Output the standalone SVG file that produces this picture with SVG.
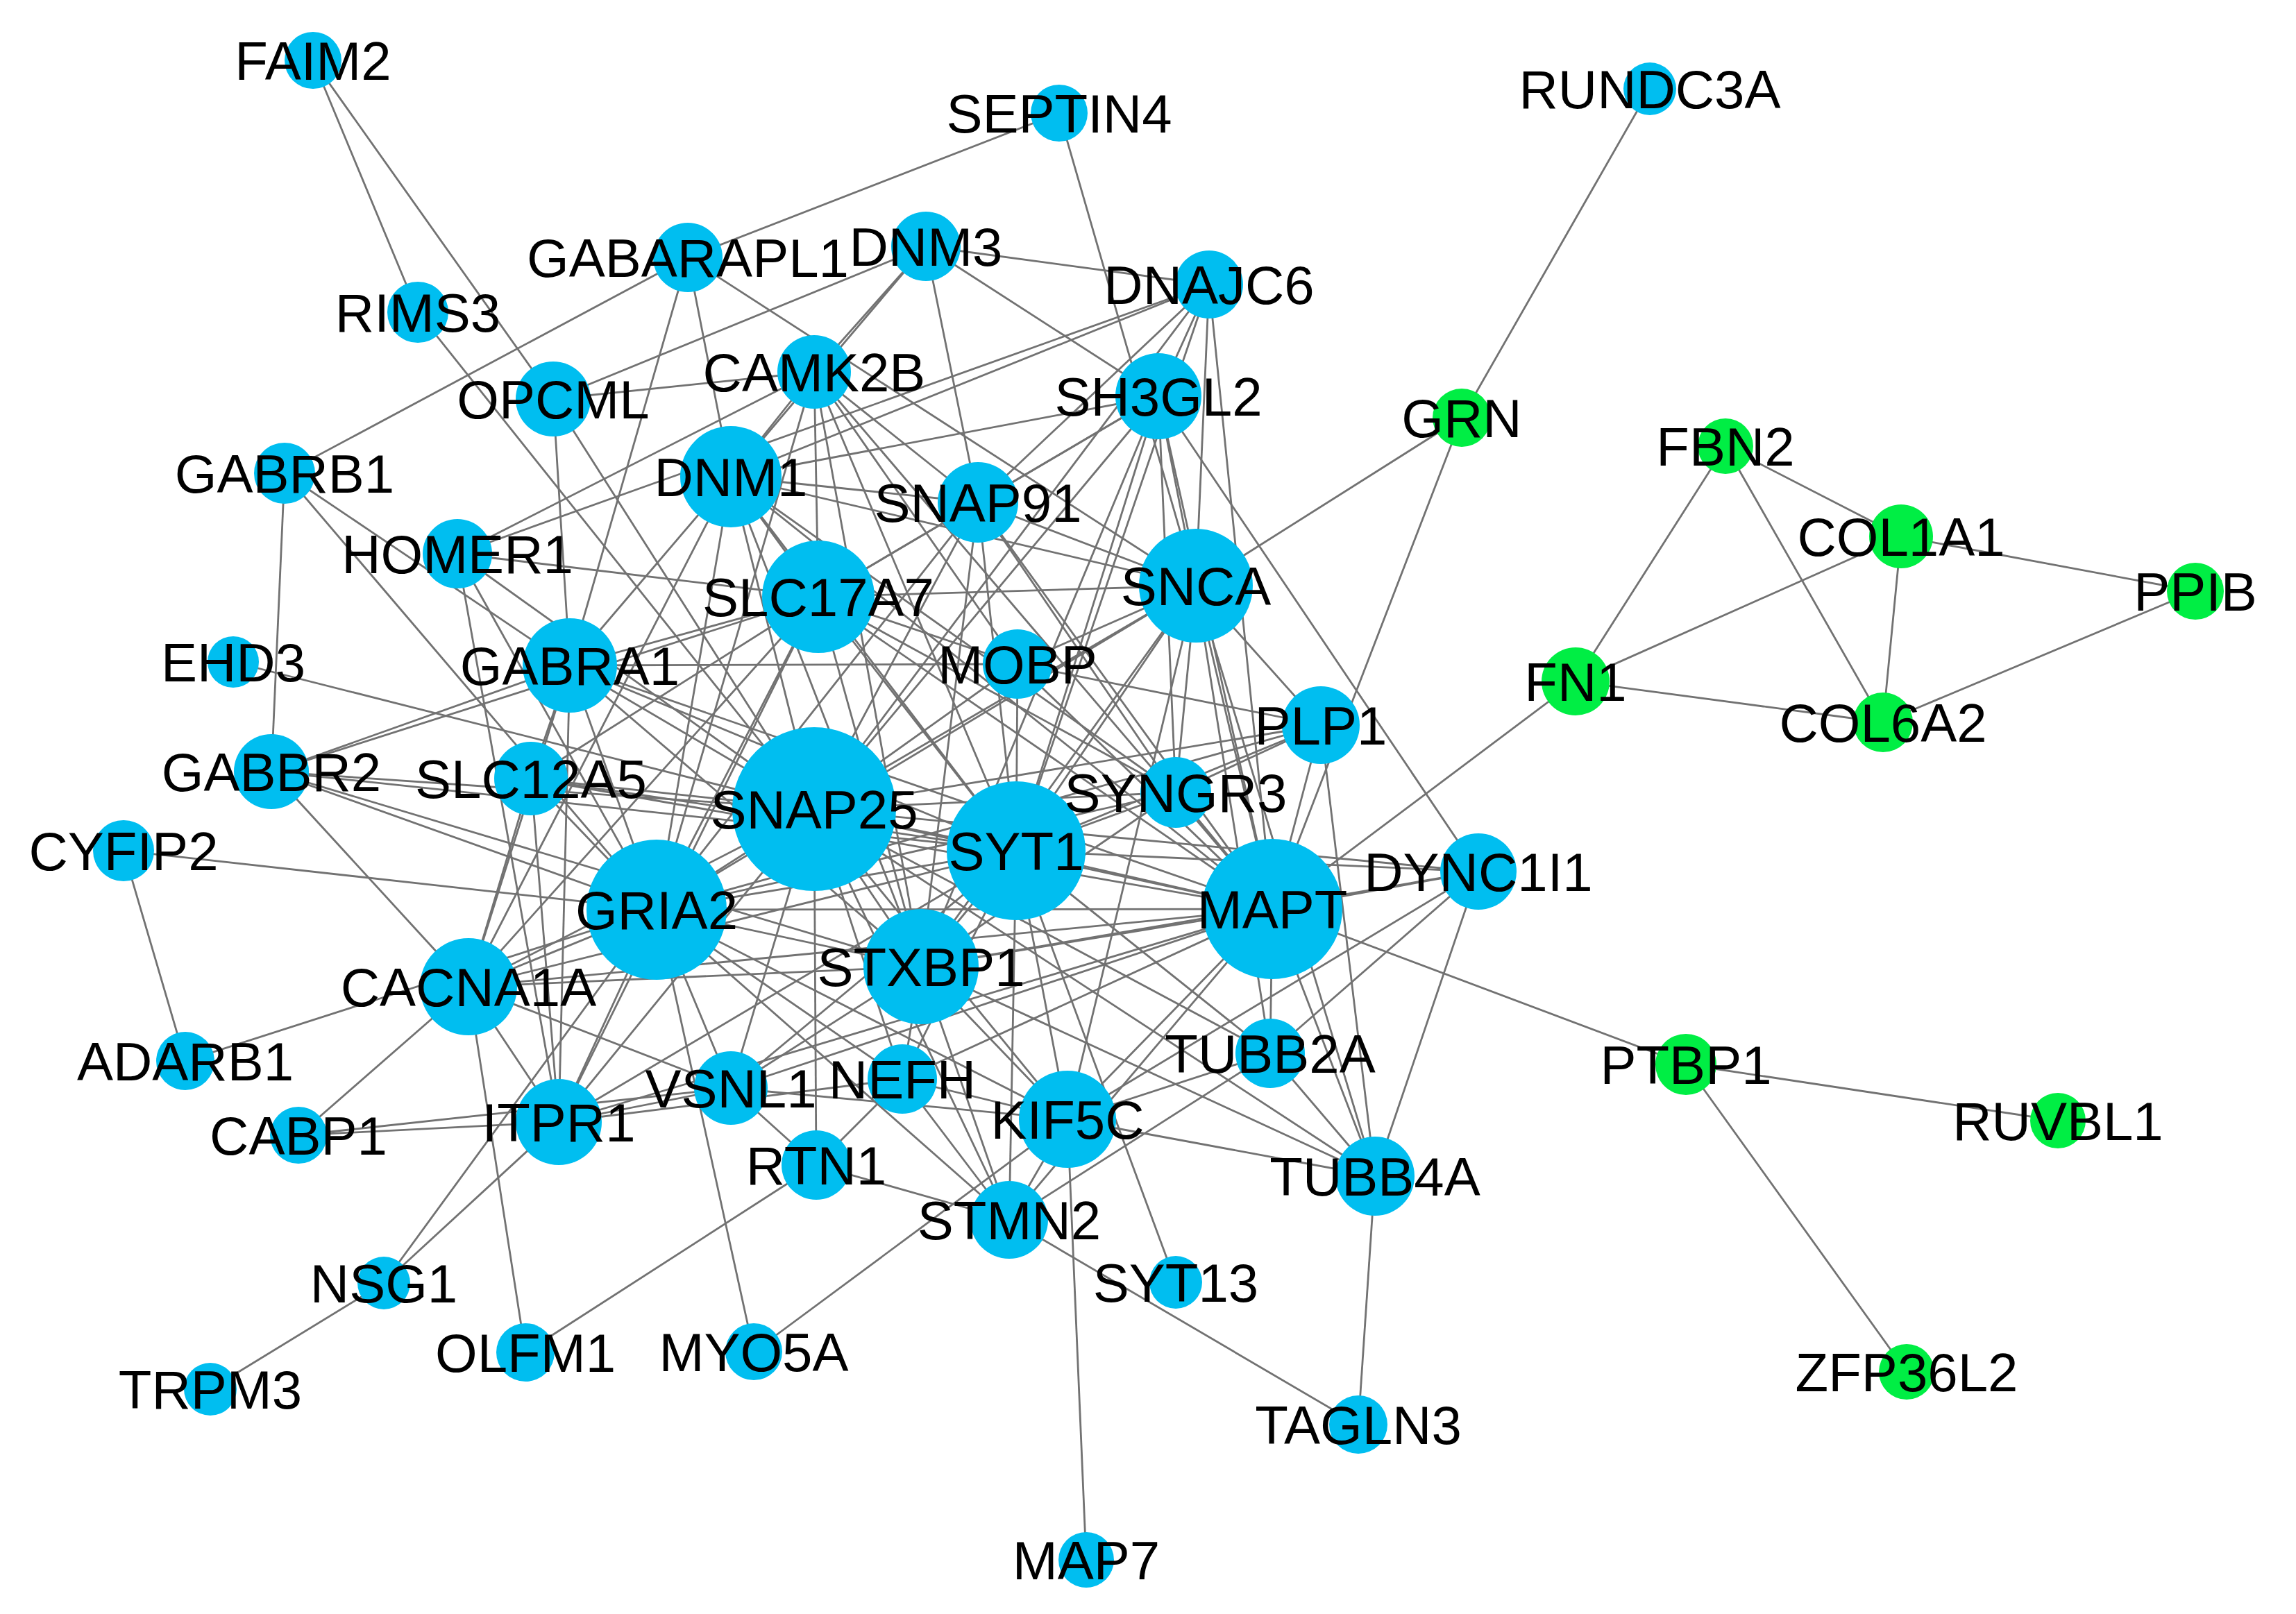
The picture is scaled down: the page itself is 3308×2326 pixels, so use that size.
<svg xmlns="http://www.w3.org/2000/svg" width="3308" height="2326" viewBox="0 0 3308 2326">
<style>
.e line{stroke:#727272;stroke-width:2.8;fill:none}
.b{fill:#00BEF0}
.g{fill:#00EE44}
text{font-family:"Liberation Sans",Arial,Helvetica,sans-serif;font-size:78px;fill:#000;text-anchor:middle}
</style>
<rect width="3308" height="2326" fill="#fff"/>
<g id="edges" class="e">
<line x1="451" y1="87" x2="602" y2="450"/>
<line x1="451" y1="87" x2="797" y2="575"/>
<line x1="602" y1="450" x2="1173" y2="1166"/>
<line x1="1526" y1="163" x2="991" y2="371"/>
<line x1="1526" y1="163" x2="1723" y2="844"/>
<line x1="2377" y1="128" x2="2106" y2="602"/>
<line x1="2106" y1="602" x2="1723" y2="844"/>
<line x1="2106" y1="602" x2="1833" y2="1310"/>
<line x1="2486" y1="643" x2="2270" y2="982"/>
<line x1="2486" y1="643" x2="2739" y2="773"/>
<line x1="2486" y1="643" x2="2713" y2="1041"/>
<line x1="2739" y1="773" x2="2270" y2="982"/>
<line x1="2739" y1="773" x2="2713" y2="1041"/>
<line x1="2739" y1="773" x2="3163" y2="852"/>
<line x1="2713" y1="1041" x2="3163" y2="852"/>
<line x1="2270" y1="982" x2="2713" y2="1041"/>
<line x1="2270" y1="982" x2="1833" y2="1310"/>
<line x1="2429" y1="1534" x2="2965" y2="1615"/>
<line x1="2429" y1="1534" x2="2747" y2="1977"/>
<line x1="1833" y1="1310" x2="2429" y2="1534"/>
<line x1="1981" y1="1695" x2="1957" y2="2053"/>
<line x1="1454" y1="1758" x2="1957" y2="2053"/>
<line x1="1464" y1="1226" x2="1694" y2="1848"/>
<line x1="1538" y1="1613" x2="1565" y2="2248"/>
<line x1="1086" y1="1948" x2="1538" y2="1613"/>
<line x1="1086" y1="1948" x2="946" y2="1311"/>
<line x1="757" y1="1949" x2="1176" y2="1679"/>
<line x1="757" y1="1949" x2="675" y2="1422"/>
<line x1="553" y1="1849" x2="303" y2="2002"/>
<line x1="553" y1="1849" x2="805" y2="1617"/>
<line x1="553" y1="1849" x2="946" y2="1311"/>
<line x1="430" y1="1636" x2="675" y2="1422"/>
<line x1="430" y1="1636" x2="805" y2="1617"/>
<line x1="430" y1="1636" x2="1053" y2="1568"/>
<line x1="267" y1="1529" x2="178" y2="1226"/>
<line x1="267" y1="1529" x2="946" y2="1311"/>
<line x1="178" y1="1226" x2="946" y2="1311"/>
<line x1="336" y1="954" x2="1173" y2="1166"/>
<line x1="410" y1="682" x2="991" y2="371"/>
<line x1="410" y1="682" x2="391" y2="1112"/>
<line x1="410" y1="682" x2="821" y2="959"/>
<line x1="410" y1="682" x2="946" y2="1311"/>
<line x1="991" y1="371" x2="821" y2="959"/>
<line x1="991" y1="371" x2="1053" y2="687"/>
<line x1="991" y1="371" x2="1723" y2="844"/>
<line x1="797" y1="575" x2="1173" y2="536"/>
<line x1="797" y1="575" x2="1334" y2="355"/>
<line x1="797" y1="575" x2="821" y2="959"/>
<line x1="797" y1="575" x2="1173" y2="1166"/>
<line x1="1334" y1="355" x2="1742" y2="410"/>
<line x1="1334" y1="355" x2="1669" y2="571"/>
<line x1="1334" y1="355" x2="1173" y2="536"/>
<line x1="1334" y1="355" x2="1053" y2="687"/>
<line x1="1334" y1="355" x2="1409" y2="724"/>
<line x1="659" y1="798" x2="805" y2="1617"/>
<line x1="659" y1="798" x2="1179" y2="860"/>
<line x1="659" y1="798" x2="946" y2="1311"/>
<line x1="659" y1="798" x2="1173" y2="1166"/>
<line x1="659" y1="798" x2="1173" y2="536"/>
<line x1="659" y1="798" x2="1742" y2="410"/>
<line x1="1742" y1="410" x2="1053" y2="687"/>
<line x1="1742" y1="410" x2="1409" y2="724"/>
<line x1="1742" y1="410" x2="1669" y2="571"/>
<line x1="1742" y1="410" x2="1723" y2="844"/>
<line x1="1742" y1="410" x2="1833" y2="1310"/>
<line x1="1742" y1="410" x2="1464" y2="1226"/>
<line x1="1742" y1="410" x2="1173" y2="1166"/>
<line x1="1669" y1="571" x2="1053" y2="687"/>
<line x1="1669" y1="571" x2="1409" y2="724"/>
<line x1="1669" y1="571" x2="2130" y2="1256"/>
<line x1="1669" y1="571" x2="1833" y2="1310"/>
<line x1="1669" y1="571" x2="1464" y2="1226"/>
<line x1="1669" y1="571" x2="1327" y2="1393"/>
<line x1="1669" y1="571" x2="1173" y2="1166"/>
<line x1="1669" y1="571" x2="1723" y2="844"/>
<line x1="1669" y1="571" x2="1694" y2="1142"/>
<line x1="1669" y1="571" x2="1179" y2="860"/>
<line x1="1173" y1="536" x2="1053" y2="687"/>
<line x1="1173" y1="536" x2="1179" y2="860"/>
<line x1="1173" y1="536" x2="1464" y2="1226"/>
<line x1="1173" y1="536" x2="1327" y2="1393"/>
<line x1="1173" y1="536" x2="1466" y2="957"/>
<line x1="1173" y1="536" x2="1409" y2="724"/>
<line x1="1173" y1="536" x2="946" y2="1311"/>
<line x1="1173" y1="536" x2="1833" y2="1310"/>
<line x1="1053" y1="687" x2="1409" y2="724"/>
<line x1="1053" y1="687" x2="1179" y2="860"/>
<line x1="1053" y1="687" x2="1173" y2="1166"/>
<line x1="1053" y1="687" x2="1464" y2="1226"/>
<line x1="1053" y1="687" x2="1327" y2="1393"/>
<line x1="1053" y1="687" x2="946" y2="1311"/>
<line x1="1053" y1="687" x2="821" y2="959"/>
<line x1="1053" y1="687" x2="1833" y2="1310"/>
<line x1="1053" y1="687" x2="1723" y2="844"/>
<line x1="1053" y1="687" x2="1694" y2="1142"/>
<line x1="1053" y1="687" x2="675" y2="1422"/>
<line x1="1409" y1="724" x2="1173" y2="1166"/>
<line x1="1409" y1="724" x2="1464" y2="1226"/>
<line x1="1409" y1="724" x2="1179" y2="860"/>
<line x1="1409" y1="724" x2="1723" y2="844"/>
<line x1="1409" y1="724" x2="1327" y2="1393"/>
<line x1="1409" y1="724" x2="1694" y2="1142"/>
<line x1="1409" y1="724" x2="1833" y2="1310"/>
<line x1="1409" y1="724" x2="946" y2="1311"/>
<line x1="1179" y1="860" x2="1464" y2="1226"/>
<line x1="1179" y1="860" x2="1327" y2="1393"/>
<line x1="1179" y1="860" x2="946" y2="1311"/>
<line x1="1179" y1="860" x2="1723" y2="844"/>
<line x1="1179" y1="860" x2="821" y2="959"/>
<line x1="1179" y1="860" x2="765" y2="1122"/>
<line x1="1179" y1="860" x2="675" y2="1422"/>
<line x1="1179" y1="860" x2="1833" y2="1310"/>
<line x1="1179" y1="860" x2="1694" y2="1142"/>
<line x1="1179" y1="860" x2="391" y2="1112"/>
<line x1="1179" y1="860" x2="1466" y2="957"/>
<line x1="1179" y1="860" x2="805" y2="1617"/>
<line x1="1723" y1="844" x2="1173" y2="1166"/>
<line x1="1723" y1="844" x2="1464" y2="1226"/>
<line x1="1723" y1="844" x2="1833" y2="1310"/>
<line x1="1723" y1="844" x2="1327" y2="1393"/>
<line x1="1723" y1="844" x2="1903" y2="1045"/>
<line x1="1723" y1="844" x2="1694" y2="1142"/>
<line x1="1723" y1="844" x2="1466" y2="957"/>
<line x1="1723" y1="844" x2="946" y2="1311"/>
<line x1="1723" y1="844" x2="1981" y2="1695"/>
<line x1="1723" y1="844" x2="1538" y2="1613"/>
<line x1="1723" y1="844" x2="1830" y2="1518"/>
<line x1="1466" y1="957" x2="1903" y2="1045"/>
<line x1="1466" y1="957" x2="1833" y2="1310"/>
<line x1="1466" y1="957" x2="1173" y2="1166"/>
<line x1="1466" y1="957" x2="821" y2="959"/>
<line x1="1466" y1="957" x2="1464" y2="1226"/>
<line x1="1903" y1="1045" x2="1833" y2="1310"/>
<line x1="1903" y1="1045" x2="1981" y2="1695"/>
<line x1="1903" y1="1045" x2="1173" y2="1166"/>
<line x1="1903" y1="1045" x2="1694" y2="1142"/>
<line x1="1903" y1="1045" x2="946" y2="1311"/>
<line x1="1903" y1="1045" x2="1464" y2="1226"/>
<line x1="1694" y1="1142" x2="1173" y2="1166"/>
<line x1="1694" y1="1142" x2="1464" y2="1226"/>
<line x1="1694" y1="1142" x2="1833" y2="1310"/>
<line x1="1694" y1="1142" x2="1327" y2="1393"/>
<line x1="1694" y1="1142" x2="946" y2="1311"/>
<line x1="2130" y1="1256" x2="1833" y2="1310"/>
<line x1="2130" y1="1256" x2="1981" y2="1695"/>
<line x1="2130" y1="1256" x2="1830" y2="1518"/>
<line x1="2130" y1="1256" x2="1538" y2="1613"/>
<line x1="2130" y1="1256" x2="1464" y2="1226"/>
<line x1="2130" y1="1256" x2="1173" y2="1166"/>
<line x1="2130" y1="1256" x2="1327" y2="1393"/>
<line x1="1833" y1="1310" x2="1173" y2="1166"/>
<line x1="1833" y1="1310" x2="1464" y2="1226"/>
<line x1="1833" y1="1310" x2="946" y2="1311"/>
<line x1="1833" y1="1310" x2="1327" y2="1393"/>
<line x1="1833" y1="1310" x2="1538" y2="1613"/>
<line x1="1833" y1="1310" x2="1830" y2="1518"/>
<line x1="1833" y1="1310" x2="1981" y2="1695"/>
<line x1="1833" y1="1310" x2="1454" y2="1758"/>
<line x1="1833" y1="1310" x2="1300" y2="1555"/>
<line x1="1833" y1="1310" x2="675" y2="1422"/>
<line x1="1833" y1="1310" x2="1053" y2="1568"/>
<line x1="1833" y1="1310" x2="821" y2="959"/>
<line x1="1833" y1="1310" x2="805" y2="1617"/>
<line x1="1830" y1="1518" x2="1981" y2="1695"/>
<line x1="1830" y1="1518" x2="1538" y2="1613"/>
<line x1="1830" y1="1518" x2="1454" y2="1758"/>
<line x1="1830" y1="1518" x2="1464" y2="1226"/>
<line x1="1981" y1="1695" x2="1538" y2="1613"/>
<line x1="1981" y1="1695" x2="1327" y2="1393"/>
<line x1="1538" y1="1613" x2="1454" y2="1758"/>
<line x1="1538" y1="1613" x2="1173" y2="1166"/>
<line x1="1538" y1="1613" x2="1464" y2="1226"/>
<line x1="1538" y1="1613" x2="1327" y2="1393"/>
<line x1="1538" y1="1613" x2="1300" y2="1555"/>
<line x1="1538" y1="1613" x2="946" y2="1311"/>
<line x1="1538" y1="1613" x2="1053" y2="1568"/>
<line x1="1454" y1="1758" x2="1176" y2="1679"/>
<line x1="1454" y1="1758" x2="1173" y2="1166"/>
<line x1="1454" y1="1758" x2="1300" y2="1555"/>
<line x1="1454" y1="1758" x2="1327" y2="1393"/>
<line x1="1454" y1="1758" x2="1464" y2="1226"/>
<line x1="1454" y1="1758" x2="946" y2="1311"/>
<line x1="1300" y1="1555" x2="1176" y2="1679"/>
<line x1="1300" y1="1555" x2="1173" y2="1166"/>
<line x1="1300" y1="1555" x2="1464" y2="1226"/>
<line x1="1300" y1="1555" x2="946" y2="1311"/>
<line x1="1300" y1="1555" x2="805" y2="1617"/>
<line x1="1300" y1="1555" x2="1327" y2="1393"/>
<line x1="1176" y1="1679" x2="1173" y2="1166"/>
<line x1="1176" y1="1679" x2="1053" y2="1568"/>
<line x1="1053" y1="1568" x2="805" y2="1617"/>
<line x1="1053" y1="1568" x2="1173" y2="1166"/>
<line x1="1053" y1="1568" x2="946" y2="1311"/>
<line x1="1053" y1="1568" x2="1464" y2="1226"/>
<line x1="1053" y1="1568" x2="1327" y2="1393"/>
<line x1="1053" y1="1568" x2="675" y2="1422"/>
<line x1="805" y1="1617" x2="675" y2="1422"/>
<line x1="805" y1="1617" x2="946" y2="1311"/>
<line x1="805" y1="1617" x2="1173" y2="1166"/>
<line x1="805" y1="1617" x2="821" y2="959"/>
<line x1="805" y1="1617" x2="765" y2="1122"/>
<line x1="805" y1="1617" x2="1464" y2="1226"/>
<line x1="675" y1="1422" x2="1173" y2="1166"/>
<line x1="675" y1="1422" x2="1464" y2="1226"/>
<line x1="675" y1="1422" x2="1327" y2="1393"/>
<line x1="675" y1="1422" x2="946" y2="1311"/>
<line x1="675" y1="1422" x2="821" y2="959"/>
<line x1="675" y1="1422" x2="765" y2="1122"/>
<line x1="675" y1="1422" x2="391" y2="1112"/>
<line x1="391" y1="1112" x2="821" y2="959"/>
<line x1="391" y1="1112" x2="946" y2="1311"/>
<line x1="391" y1="1112" x2="1327" y2="1393"/>
<line x1="391" y1="1112" x2="1173" y2="1166"/>
<line x1="391" y1="1112" x2="1464" y2="1226"/>
<line x1="765" y1="1122" x2="821" y2="959"/>
<line x1="765" y1="1122" x2="946" y2="1311"/>
<line x1="765" y1="1122" x2="1173" y2="1166"/>
<line x1="765" y1="1122" x2="1464" y2="1226"/>
<line x1="765" y1="1122" x2="1833" y2="1310"/>
<line x1="821" y1="959" x2="1173" y2="1166"/>
<line x1="821" y1="959" x2="1464" y2="1226"/>
<line x1="821" y1="959" x2="946" y2="1311"/>
<line x1="821" y1="959" x2="1327" y2="1393"/>
<line x1="1173" y1="1166" x2="1464" y2="1226"/>
<line x1="1173" y1="1166" x2="1327" y2="1393"/>
<line x1="1173" y1="1166" x2="946" y2="1311"/>
<line x1="1464" y1="1226" x2="1327" y2="1393"/>
<line x1="1464" y1="1226" x2="946" y2="1311"/>
<line x1="946" y1="1311" x2="1327" y2="1393"/>
<line x1="1173" y1="1166" x2="1981" y2="1695"/>
<line x1="1173" y1="1166" x2="1830" y2="1518"/>
</g>
<g id="nodes">
<g id="SNAP25"><circle class="b" cx="1173" cy="1166" r="118"/><text x="1173" y="1194">SNAP25</text></g>
<g id="MAPT"><circle class="b" cx="1833" cy="1310" r="101"/><text x="1833" y="1338">MAPT</text></g>
<g id="GRIA2"><circle class="b" cx="946" cy="1311" r="101"/><text x="946" y="1339">GRIA2</text></g>
<g id="SYT1"><circle class="b" cx="1464" cy="1226" r="100"/><text x="1464" y="1254">SYT1</text></g>
<g id="STXBP1"><circle class="b" cx="1327" cy="1393" r="83"/><text x="1327" y="1421">STXBP1</text></g>
<g id="SNCA"><circle class="b" cx="1723" cy="844" r="82"/><text x="1723" y="872">SNCA</text></g>
<g id="SLC17A7"><circle class="b" cx="1179" cy="860" r="81"/><text x="1179" y="888">SLC17A7</text></g>
<g id="DNM1"><circle class="b" cx="1053" cy="687" r="73"/><text x="1053" y="715">DNM1</text></g>
<g id="CACNA1A"><circle class="b" cx="675" cy="1422" r="70"/><text x="675" y="1450">CACNA1A</text></g>
<g id="KIF5C"><circle class="b" cx="1538" cy="1613" r="70"/><text x="1538" y="1641">KIF5C</text></g>
<g id="GABRA1"><circle class="b" cx="821" cy="959" r="68"/><text x="821" y="987">GABRA1</text></g>
<g id="SH3GL2"><circle class="b" cx="1669" cy="571" r="62"/><text x="1669" y="599">SH3GL2</text></g>
<g id="ITPR1"><circle class="b" cx="805" cy="1617" r="62"/><text x="805" y="1645">ITPR1</text></g>
<g id="SNAP91"><circle class="b" cx="1409" cy="724" r="58"/><text x="1409" y="752">SNAP91</text></g>
<g id="TUBB4A"><circle class="b" cx="1981" cy="1695" r="57"/><text x="1981" y="1723">TUBB4A</text></g>
<g id="PLP1"><circle class="b" cx="1903" cy="1045" r="56"/><text x="1903" y="1073">PLP1</text></g>
<g id="STMN2"><circle class="b" cx="1454" cy="1758" r="56"/><text x="1454" y="1786">STMN2</text></g>
<g id="DYNC1I1"><circle class="b" cx="2130" cy="1256" r="55"/><text x="2130" y="1284">DYNC1I1</text></g>
<g id="OPCML"><circle class="b" cx="797" cy="575" r="54"/><text x="797" y="603">OPCML</text></g>
<g id="GABBR2"><circle class="b" cx="391" cy="1112" r="54"/><text x="391" y="1140">GABBR2</text></g>
<g id="CAMK2B"><circle class="b" cx="1173" cy="536" r="53"/><text x="1173" y="564">CAMK2B</text></g>
<g id="SLC12A5"><circle class="b" cx="765" cy="1122" r="53"/><text x="765" y="1150">SLC12A5</text></g>
<g id="VSNL1"><circle class="b" cx="1053" cy="1568" r="53"/><text x="1053" y="1596">VSNL1</text></g>
<g id="SYNGR3"><circle class="b" cx="1694" cy="1142" r="51"/><text x="1694" y="1170">SYNGR3</text></g>
<g id="GABARAPL1"><circle class="b" cx="991" cy="371" r="50"/><text x="991" y="399">GABARAPL1</text></g>
<g id="DNM3"><circle class="b" cx="1334" cy="355" r="50"/><text x="1334" y="383">DNM3</text></g>
<g id="HOMER1"><circle class="b" cx="659" cy="798" r="50"/><text x="659" y="826">HOMER1</text></g>
<g id="MOBP"><circle class="b" cx="1466" cy="957" r="50"/><text x="1466" y="985">MOBP</text></g>
<g id="TUBB2A"><circle class="b" cx="1830" cy="1518" r="50"/><text x="1830" y="1546">TUBB2A</text></g>
<g id="NEFH"><circle class="b" cx="1300" cy="1555" r="50"/><text x="1300" y="1583">NEFH</text></g>
<g id="RTN1"><circle class="b" cx="1176" cy="1679" r="50"/><text x="1176" y="1707">RTN1</text></g>
<g id="DNAJC6"><circle class="b" cx="1742" cy="410" r="49"/><text x="1742" y="438">DNAJC6</text></g>
<g id="FN1"><circle class="g" cx="2270" cy="982" r="49"/><text x="2270" y="1010">FN1</text></g>
<g id="COL1A1"><circle class="g" cx="2739" cy="773" r="46"/><text x="2739" y="801">COL1A1</text></g>
<g id="RIMS3"><circle class="b" cx="602" cy="450" r="44"/><text x="602" y="478">RIMS3</text></g>
<g id="GABRB1"><circle class="b" cx="410" cy="682" r="44"/><text x="410" y="710">GABRB1</text></g>
<g id="CYFIP2"><circle class="b" cx="178" cy="1226" r="44"/><text x="178" y="1254">CYFIP2</text></g>
<g id="PTBP1"><circle class="g" cx="2429" cy="1534" r="44"/><text x="2429" y="1562">PTBP1</text></g>
<g id="COL6A2"><circle class="g" cx="2713" cy="1041" r="43"/><text x="2713" y="1069">COL6A2</text></g>
<g id="GRN"><circle class="g" cx="2106" cy="602" r="42"/><text x="2106" y="630">GRN</text></g>
<g id="ADARB1"><circle class="b" cx="267" cy="1529" r="42"/><text x="267" y="1557">ADARB1</text></g>
<g id="OLFM1"><circle class="b" cx="757" cy="1949" r="42"/><text x="757" y="1977">OLFM1</text></g>
<g id="TAGLN3"><circle class="b" cx="1957" cy="2053" r="42"/><text x="1957" y="2081">TAGLN3</text></g>
<g id="FAIM2"><circle class="b" cx="451" cy="87" r="41"/><text x="451" y="115">FAIM2</text></g>
<g id="SEPTIN4"><circle class="b" cx="1526" cy="163" r="41"/><text x="1526" y="191">SEPTIN4</text></g>
<g id="CABP1"><circle class="b" cx="430" cy="1636" r="41"/><text x="430" y="1664">CABP1</text></g>
<g id="MYO5A"><circle class="b" cx="1086" cy="1948" r="41"/><text x="1086" y="1976">MYO5A</text></g>
<g id="PPIB"><circle class="g" cx="3163" cy="852" r="41"/><text x="3163" y="880">PPIB</text></g>
<g id="FBN2"><circle class="g" cx="2486" cy="643" r="40"/><text x="2486" y="671">FBN2</text></g>
<g id="RUVBL1"><circle class="g" cx="2965" cy="1615" r="40"/><text x="2965" y="1643">RUVBL1</text></g>
<g id="ZFP36L2"><circle class="g" cx="2747" cy="1977" r="40"/><text x="2747" y="2005">ZFP36L2</text></g>
<g id="MAP7"><circle class="b" cx="1565" cy="2248" r="40"/><text x="1565" y="2276">MAP7</text></g>
<g id="RUNDC3A"><circle class="b" cx="2377" cy="128" r="38"/><text x="2377" y="156">RUNDC3A</text></g>
<g id="EHD3"><circle class="b" cx="336" cy="954" r="37"/><text x="336" y="982">EHD3</text></g>
<g id="SYT13"><circle class="b" cx="1694" cy="1848" r="38"/><text x="1694" y="1876">SYT13</text></g>
<g id="NSG1"><circle class="b" cx="553" cy="1849" r="38"/><text x="553" y="1877">NSG1</text></g>
<g id="TRPM3"><circle class="b" cx="303" cy="2002" r="38"/><text x="303" y="2030">TRPM3</text></g>
</g>
</svg>
